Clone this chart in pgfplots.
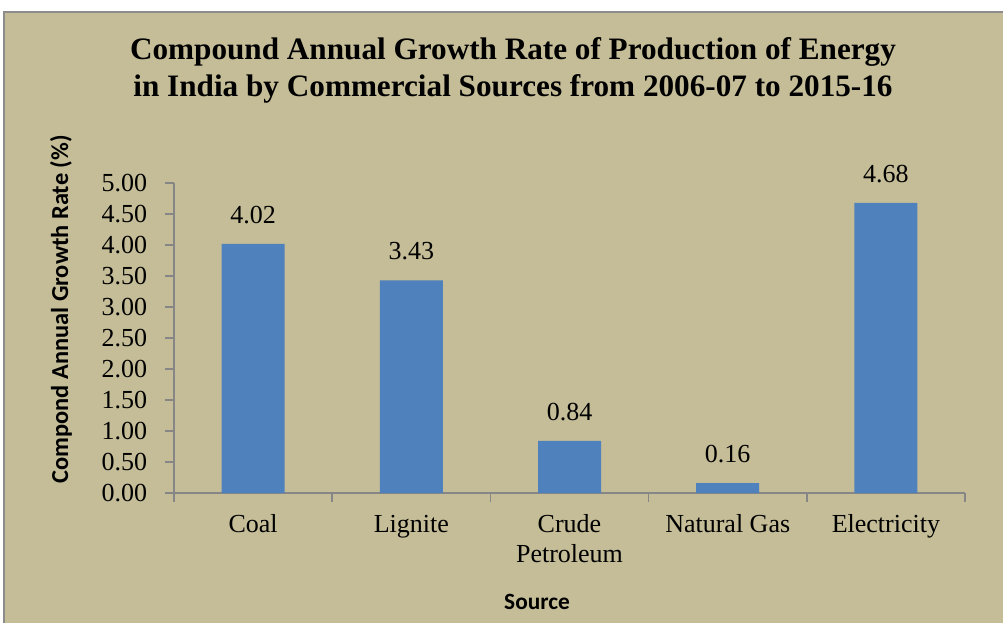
\documentclass[border=0pt]{standalone}
\usepackage{pgfplots}
\pgfplotsset{compat=1.18}
\usepackage{fontspec}
\setmainfont{Liberation Serif}
\newfontfamily\labelfont{Carlito}
\definecolor{bgtan}{HTML}{C4BD97}
\definecolor{barblue}{HTML}{4F81BD}
\definecolor{axgray}{HTML}{868686}
\definecolor{framegray}{HTML}{8C8C8C}
\begin{document}
\begin{tikzpicture}
% page = 1003 x 623 px, 1px = 0.75pt, y downwards negative
\clip (0,0) rectangle (752.25pt,-467.25pt);
\fill[white] (0,0) rectangle (752.25pt,-467.25pt);
\filldraw[fill=bgtan, draw=framegray, line width=1pt] (3pt,-9pt) rectangle (770pt,-480pt);

\node[anchor=base, font=\fontsize{23.4}{27}\selectfont\bfseries] at (384.75pt,-45pt)
  {Compound Annual Growth Rate of Production of Energy};
\node[anchor=base, font=\fontsize{23.4}{27}\selectfont\bfseries] at (384.75pt,-72.5pt)
  {in India by Commercial Sources from 2006-07 to 2015-16};
\node[rotate=90, font=\labelfont\fontsize{18.3}{21}\selectfont\bfseries] at (45.75pt,-232pt)
  {Compond Annual Growth Rate (\%)};
\node[font=\labelfont\fontsize{17.5}{20}\selectfont\bfseries] at (402.75pt,-451.5pt) {Source};

\begin{axis}[
  at={(130.5pt,-369.75pt)}, anchor=south west,
  scale only axis, width=593.25pt, height=232.5pt,
  xmin=-0.5, xmax=4.5, ymin=0, ymax=5,
  axis lines*=left,
  axis line style={axgray, line width=1.1pt},
  tick style={axgray, line width=1.1pt},
  tick align=outside,
  major tick length=6.5pt,
  ytick={0,0.5,1,1.5,2,2.5,3,3.5,4,4.5,5},
  /pgf/number format/assume math mode=true,
  yticklabel={\pgfmathprintnumber[fixed,fixed zerofill,precision=2]{\tick}},
  yticklabel style={font=\fontsize{19.5}{22.5}\selectfont, inner sep=0pt, xshift=-13.5pt},
  xtick={0,1,2,3,4},
  xticklabels={Coal,Lignite,{Crude\\Petroleum},Natural Gas,Electricity},
  x tick style={draw=none},
  xticklabel style={font=\fontsize{19.5}{22.5}\selectfont, align=center, inner sep=0pt, yshift=-9.75pt},
  extra x ticks={-0.5,0.5,1.5,2.5,3.5,4.5},
  extra x tick labels={},
  extra x tick style={x tick style={axgray, line width=1.1pt, draw=axgray}},
  ybar, bar width=47.25pt,
  nodes near coords={\pgfmathprintnumber[fixed,fixed zerofill,precision=2]{\pgfplotspointmeta}},
  nodes near coords style={font=\fontsize{19.5}{22.5}\selectfont, inner sep=0pt, yshift=15pt, text=black},
]
\addplot[fill=barblue, draw=none] coordinates {
  (0,4.02) (1,3.43) (2,0.84) (3,0.16) (4,4.68)
};
\end{axis}
\end{tikzpicture}
\end{document}
